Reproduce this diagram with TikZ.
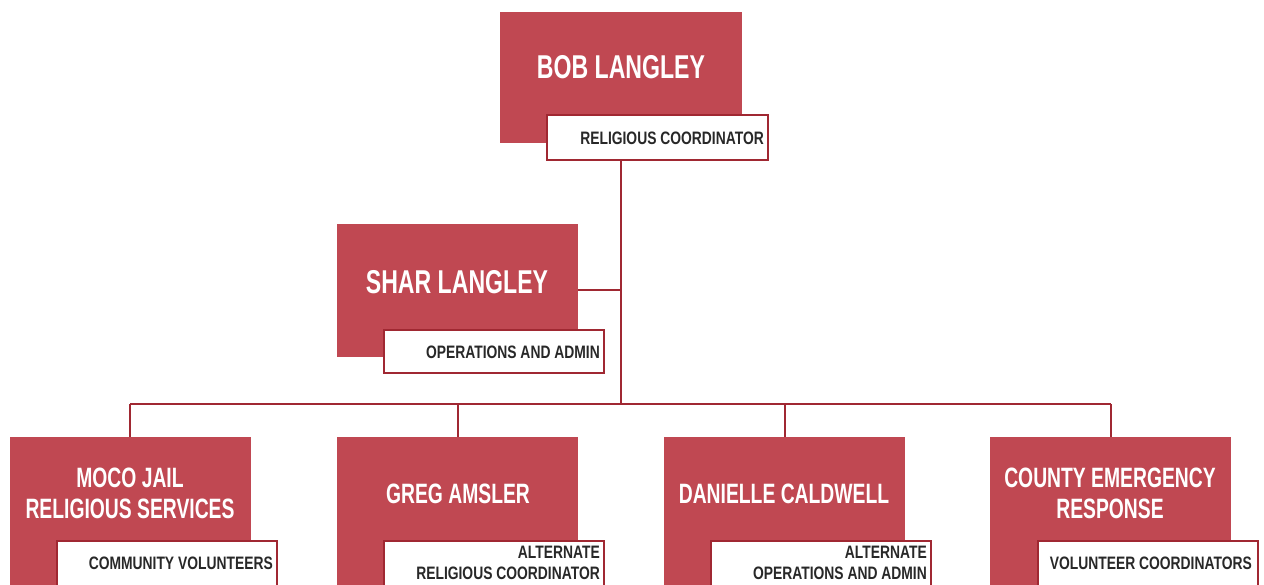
\documentclass[tikz,border=0pt]{standalone}
\usepackage{fontspec}
\setmainfont{Liberation Sans}
\newfontfamily\namefont{Liberation Sans}[BoldFont={* Bold},FakeStretch=0.70]
\newfontfamily\nametwofont{Liberation Sans}[BoldFont={* Bold},FakeStretch=0.69]
\newfontfamily\labfont{Liberation Sans}[BoldFont={* Bold},FakeStretch=0.77]
\definecolor{boxred}{RGB}{192,72,82}
\definecolor{linered}{RGB}{160,40,50}
\definecolor{labtext}{RGB}{40,40,40}
\tikzset{
  redbox/.style={draw=none, fill=boxred, inner sep=0pt, minimum width=#1},
  labbox/.style={draw=linered, line width=1.6pt, fill=white, inner sep=0pt, minimum width=#1},
  nametext/.style={text=white, font=\namefont\bfseries\fontsize{33}{35}\selectfont, align=center, inner sep=0pt},
  nametwo/.style={text=white, font=\nametwofont\bfseries\fontsize{28}{31}\selectfont, align=center, inner sep=0pt},
  labtxt/.style={text=labtext, font=\labfont\bfseries\fontsize{18}{20.5}\selectfont, align=right, inner sep=0pt, anchor=east},
  conn/.style={draw=linered, line width=1.8pt}
}
\begin{document}
\begin{tikzpicture}[x=1pt,y=-1pt]
\useasboundingbox (0,0) rectangle (1264,584);
\clip (0,0) rectangle (1264,584);
% connectors
\coordinate (bus) at (621,404);
\coordinate (busL) at (130,404);
\coordinate (busR) at (1111,404);
\coordinate (shj) at (621,290);
% red boxes
\node[redbox=242pt, minimum height=131pt] (bob) at (621,77.5) {};
\node[redbox=241pt, minimum height=133pt] (shar) at (457.5,290.5) {};
\node[redbox=241pt, minimum height=170pt] (moco) at (130.5,522) {};
\node[redbox=241pt, minimum height=170pt] (greg) at (457.5,522) {};
\node[redbox=241pt, minimum height=170pt] (dan) at (784.5,522) {};
\node[redbox=241pt, minimum height=170pt] (cty) at (1110.5,522) {};
\draw[conn] (621,160) -- (bus);
\draw[conn] (shar.east |- shj) -- (shj);
\draw[conn] (busL) -- (busR);
\draw[conn] (busL) -- (moco.north -| busL);
\draw[conn] (458,404) -- (greg.north -| 458,0);
\draw[conn] (785,404) -- (dan.north -| 785,0);
\draw[conn] (busR) -- (cty.north -| busR);
% labels
\node[labbox=221pt, minimum height=45pt] (bobl) at (657.5,137.5) {};
\node[labbox=220pt, minimum height=43pt] (sharl) at (494,351.5) {};
\node[labbox=220pt, minimum height=60pt] (mocol) at (167,571) {};
\node[labbox=220pt, minimum height=60pt] (gregl) at (494,571) {};
\node[labbox=220pt, minimum height=60pt] (danl) at (821,571) {};
\node[labbox=220pt, minimum height=60pt] (ctyl) at (1148,571) {};
% names
\node[nametext] at (621,67) {BOB LANGLEY};
\node[nametext] at (457,282) {SHAR LANGLEY};
\node[nametwo] at (130,493) {MOCO JAIL\\RELIGIOUS SERVICES};
\node[nametwo] at (458,494) {GREG AMSLER};
\node[nametwo] at (784,494) {DANIELLE CALDWELL};
\node[nametwo] at (1110,493) {COUNTY EMERGENCY\\RESPONSE};
% label texts
\node[labtxt] at (764,138) {RELIGIOUS COORDINATOR};
\node[labtxt] at (600,352) {OPERATIONS AND ADMIN};
\node[labtxt] at (273,563) {COMMUNITY VOLUNTEERS};
\node[labtxt] at (600,563) {ALTERNATE\\RELIGIOUS COORDINATOR};
\node[labtxt] at (927,563) {ALTERNATE\\OPERATIONS AND ADMIN};
\node[labtxt] at (1252,563) {VOLUNTEER COORDINATORS};
\end{tikzpicture}
\end{document}
